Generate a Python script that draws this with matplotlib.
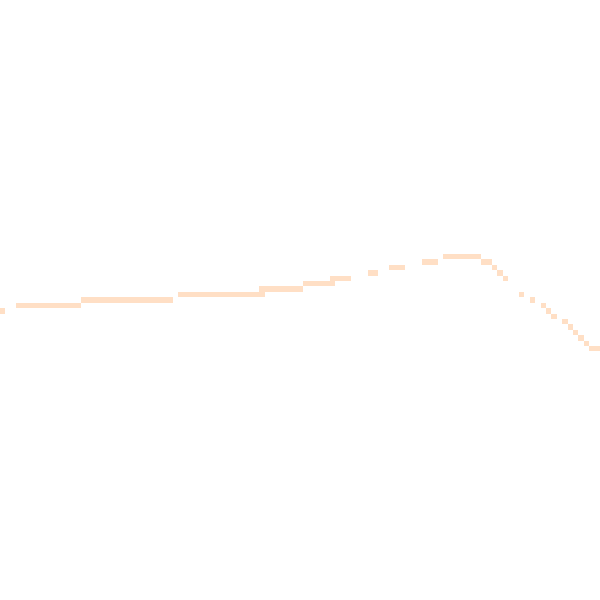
import matplotlib
matplotlib.use("Agg")
import matplotlib.pyplot as plt

# line drawn on a coarse 111 x 111 cell grid: start cell, end cell, row (from top)
x_start = [0, 3, 15, 33, 48, 56, 61, 68, 72, 78, 82, 89, 91, 92, 93,
           96, 98, 100, 101, 102, 104, 105, 106, 107, 108, 109]
x_end = [1, 15, 32, 49, 56, 62, 65, 70, 75, 81, 89, 91, 92, 93, 94,
         97, 99, 101, 102, 103, 105, 106, 107, 108, 109, 111]
rows = [57, 56, 55, 54, 53, 52, 51, 50, 49, 48, 47, 48, 49, 50, 51,
        54, 55, 56, 57, 58, 59, 60, 61, 62, 63, 64]

grid = 111
color = "#ffdfc5"

fig = plt.figure(figsize=(6, 6), dpi=100)
ax = fig.add_axes([0, 0, 1, 1])
widths = [b - a for a, b in zip(x_start, x_end)]
ax.barh(rows, widths, left=x_start, height=1, align="edge",
        color=color, linewidth=0, antialiased=False)
ax.set_xlim(0, grid)
ax.set_ylim(grid, 0)
ax.axis("off")
fig.savefig("out.png", dpi=100, facecolor="white")
